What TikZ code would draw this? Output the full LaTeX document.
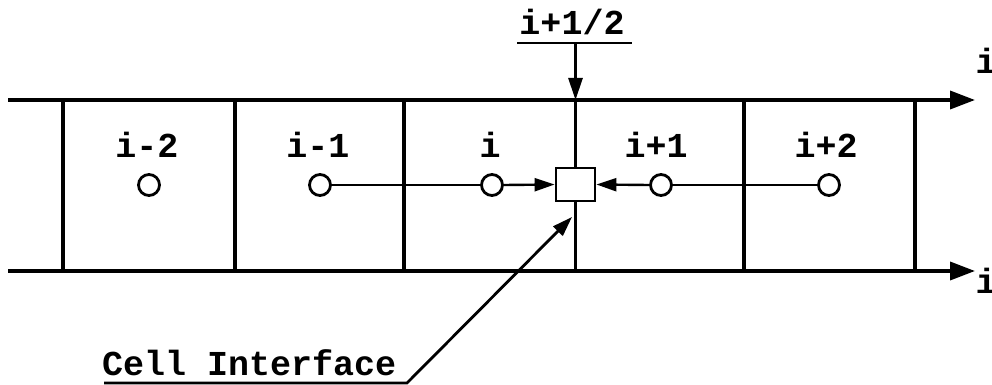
\documentclass[tikz,border=0pt]{standalone}
\usepackage{fontspec}
\setmainfont{Liberation Mono}
\usetikzlibrary{arrows.meta}
\begin{document}
\begin{tikzpicture}[x=1pt,y=-1pt,
  lbl/.style={font=\bfseries\fontsize{35}{38}\selectfont, anchor=base, inner sep=0pt},
  cellpt/.style={circle, draw, line width=2.8pt, minimum size=21pt, inner sep=0pt, fill=white},
  iface/.style={draw, line width=2.8pt, minimum width=39pt, minimum height=33pt, inner sep=0pt, fill=white},
  axis/.style={line width=3.6pt, -{Triangle[length=25pt,width=18pt]}},
  wall/.style={line width=3.2pt},
  conn/.style={line width=2.4pt},
  tipped/.style={-{Triangle[length=20pt,width=13pt]}},
  pointer/.style={line width=2.8pt}
]
\useasboundingbox (0,0) rectangle (992,385);
% axes
\coordinate (tl) at (8,100); \coordinate (tr) at (975,100);
\coordinate (bl) at (8,271); \coordinate (br) at (975,271);
\draw[axis] (tl) -- (tr);
\draw[axis] (bl) -- (br);
% cell walls
\foreach \x/\n in {63/1,235/2,404/3,744/4,915/5}{
  \coordinate (wt\n) at (\x,100);
  \coordinate (wb\n) at (\x,271);
  \draw[wall] (wt\n) -- (wb\n);
}
% interface
\node[iface] (sq) at (575.5,184.5) {};
\coordinate (it) at (575.5,100);
\coordinate (ib) at (575.5,271);
\draw[wall] (it) -- (sq.north);
\draw[wall] (sq.south) -- (ib);
% cell centres
\node[cellpt] (c1) at (149,185) {};
\node[cellpt] (c2) at (320,185) {};
\node[cellpt] (c3) at (492,185) {};
\node[cellpt] (c4) at (661,185) {};
\node[cellpt] (c5) at (829,185) {};
\draw[conn] (c2.east) -- (c3.west);
\draw[conn,tipped] (c3.east) -- (sq.west);
\draw[conn] (c5.west) -- (c4.east);
\draw[conn,tipped] (c4.west) -- (sq.east);
% cell labels
\node[lbl] (l1) at (147,157) {i-2};
\node[lbl] (l2) at (318,157) {i-1};
\node[lbl] (l3) at (490,157) {i};
\node[lbl] (l4) at (656,157) {i+1};
\node[lbl] (l5) at (826,157) {i+2};
% i+1/2 label
\node[lbl] (half) at (572,35) {i+1/2};
\coordinate (hu1) at (517,43);
\coordinate (hu2) at (632,43);
\coordinate (hm) at (575.5,43);
\draw[pointer] (hu1) -- (hu2);
\draw[pointer,-{Triangle[length=22pt,width=14pt]}] (hm) -- (it);
% axis labels
\node[lbl] (ai1) at (986,74) {i};
\node[lbl] (ai2) at (986,293) {i};
% cell interface label
\node[lbl, anchor=base west] (ci) at (102,375) {Cell Interface};
\coordinate (cu1) at (104,383);
\coordinate (cu2) at (407,383);
\coordinate (ctip) at (572,217);
\draw[pointer,-{Triangle[length=20pt,width=13pt]}] (cu1) -- (cu2) -- (ctip);
\end{tikzpicture}
\end{document}
